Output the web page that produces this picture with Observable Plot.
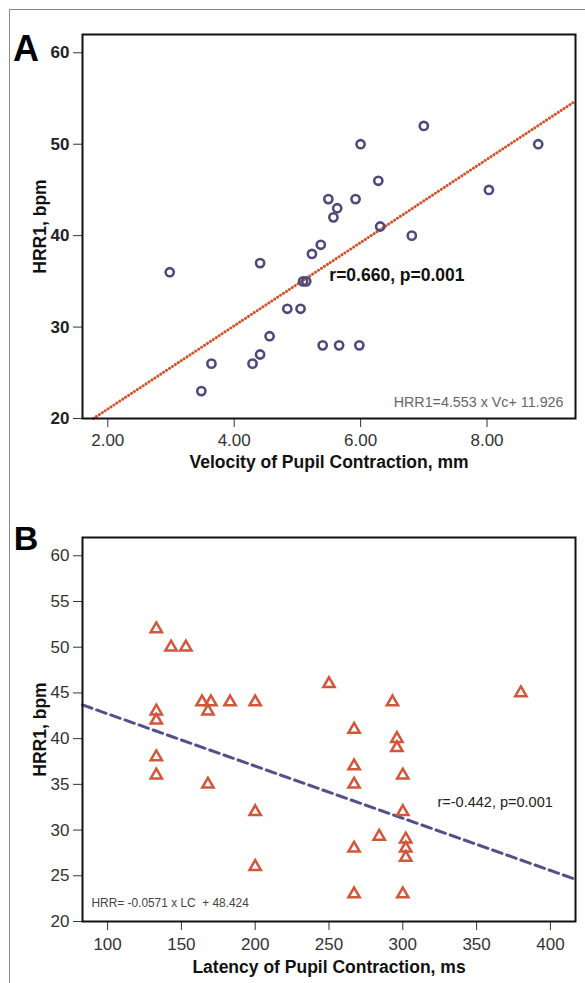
<!DOCTYPE html>
<html>
<head>
<meta charset="utf-8">
<script src="https://cdn.jsdelivr.net/npm/d3@7"></script>
<script src="https://cdn.jsdelivr.net/npm/@observablehq/plot@0.6"></script>
<style>
  html, body { margin: 0; padding: 0; background: #fff; }
  #wrap { position: relative; width: 585px; height: 983px; overflow: hidden; }
  #borderTop { position: absolute; left: 10px; top: 9px; width: 575px; height: 0; border-top: 1.5px solid #8a8a8a; }
  #borderLeft { position: absolute; left: 9px; top: 9px; width: 0; height: 974px; border-left: 1.5px solid #8a8a8a; }
  #panelA { position: absolute; left: 0; top: 0; }
  #panelB { position: absolute; left: 0; top: 480px; }
  svg { overflow: visible; }
</style>
</head>
<body>
<div id="wrap">
  <div id="borderTop"></div>
  <div id="borderLeft"></div>
  <div id="panelA"></div>
  <div id="panelB"></div>
</div>
<script>
// ---- Panel A data: Velocity of Pupil Contraction (mm) vs HRR1 (bpm)
const velocityA = [2.98, 3.48, 3.64, 4.29, 4.41, 4.41, 4.56, 4.84, 5.05, 5.09, 5.14, 5.23, 5.37, 5.40, 5.66, 5.98, 5.49, 5.92, 5.63, 5.57, 6.00, 6.28, 6.31, 6.81, 7.00, 8.03, 8.81];
const hrrA      = [36,   23,   26,   26,   27,   37,   29,   32,   32,   35,   35,   38,   39,   28,   28,   28,   44,   44,   43,   42,   50,   46,   41,   40,   52,   45,   50];
const ticksXA = [2, 4, 6, 8];
const ticksYA = [20, 30, 40, 50, 60];
const domainXA = [1.6, 9.4];
const domainYA = [20, 62];
const slopeA = 4.553, interceptA = 11.926;

// ---- Panel B data: Latency of Pupil Contraction (ms) vs HRR1 (bpm)
const latencyB = [133, 143, 153, 133, 133, 164, 170, 168, 183, 200, 133, 133, 168, 200, 200, 250, 293, 380, 267, 296, 296, 267, 267, 300, 300, 284, 302, 302, 302, 267, 267, 300];
const hrrB     = [52,  50,  50,  43,  42,  44,  44,  43,  44,  44,  38,  36,  35,  32,  26,  46,  44,  45,  41,  40,  39,  37,  35,  36,  32,  29.3, 29, 28,  27,  28,  23,  23];
const ticksXB = [100, 150, 200, 250, 300, 350, 400];
const ticksYB = [20, 25, 30, 35, 40, 45, 50, 55, 60];
const domainXB = [83, 417];
const domainYB = [20, 62];
const slopeB = -0.0571, interceptB = 48.424;

const FONT = "'Liberation Sans', Arial, Helvetica, sans-serif";

const tableA = velocityA.map((v, i) => ({v, h: hrrA[i]}));
const tableB = latencyB.map((l, i) => ({l, h: hrrB[i]}));

const xStartA = Math.max(domainXA[0], (domainYA[0] - interceptA) / slopeA);
const lineA = [xStartA, domainXA[1]].map(x => ({x, y: slopeA * x + interceptA}));
const lineB = [domainXB[0], domainXB[1]].map(x => ({x, y: slopeB * x + interceptB}));

const plotA = Plot.plot({
  width: 585, height: 480,
  marginTop: 34, marginBottom: 62, marginLeft: 82, marginRight: 10,
  x: {domain: domainXA},
  y: {domain: domainYA},
  style: {fontFamily: FONT, background: "transparent", color: "#222"},
  marks: [
    Plot.axisX({ticks: ticksXA, tickFormat: d => d.toFixed(2), tickSize: 9, tickPadding: 6, fontSize: 17, label: null, stroke: "#333", fill: "#333"}),
    Plot.axisY({ticks: ticksYA, tickSize: 9, tickPadding: 4, fontSize: 17, fontWeight: "bold", label: null, stroke: "#333", fill: "#222"}),
    Plot.line(lineA, {x: "x", y: "y", stroke: "#d4532b", strokeWidth: 3, strokeDasharray: "0.1,3.4", strokeLinecap: "round"}),
    Plot.dot(tableA, {x: "v", y: "h", r: 4.1, stroke: "#4e4b7c", strokeWidth: 2.6, fill: "none"}),
    Plot.frame({stroke: "#111", strokeWidth: 2}),
    Plot.text(["r=0.660, p=0.001"], {x: 5.505, y: 35.6, textAnchor: "start", lineAnchor: "middle", fontSize: 17.5, fontWeight: "bold", fill: "#111"}),
    Plot.text(["HRR1=4.553 x Vc+ 11.926"], {frameAnchor: "bottom-right", textAnchor: "end", lineAnchor: "middle", dx: -12, dy: -16, fontSize: 14.3, fill: "#666"}),
    Plot.text(["Velocity of Pupil Contraction, mm"], {frameAnchor: "bottom", textAnchor: "middle", lineAnchor: "middle", dy: 44, fontSize: 17.5, fontWeight: "bold", fill: "#111"}),
    Plot.text(["HRR1, bpm"], {frameAnchor: "left", textAnchor: "middle", lineAnchor: "middle", dx: -42, rotate: -90, fontSize: 17.5, fontWeight: "bold", fill: "#111"}),
    Plot.text(["A"], {frameAnchor: "top-left", textAnchor: "middle", lineAnchor: "middle", dx: -56.5, dy: 14.5, fontSize: 36, fontWeight: "bold", fill: "#000"})
  ]
});
document.getElementById("panelA").append(plotA);

const plotB = Plot.plot({
  width: 585, height: 503,
  marginTop: 57, marginBottom: 62, marginLeft: 82, marginRight: 10,
  x: {domain: domainXB},
  y: {domain: domainYB},
  style: {fontFamily: FONT, background: "transparent", color: "#222"},
  marks: [
    Plot.axisX({ticks: ticksXB, tickSize: 9, tickPadding: 7, fontSize: 17, label: null, stroke: "#333", fill: "#333"}),
    Plot.axisY({ticks: ticksYB, tickSize: 9, tickPadding: 4, fontSize: 17, label: null, stroke: "#333", fill: "#333"}),
    Plot.line(lineB, {x: "x", y: "y", stroke: "#52528a", strokeWidth: 3, strokeDasharray: "10,5"}),
    Plot.dot(tableB, {x: "l", y: "h", symbol: "triangle", r: 4.2, stroke: "#d3553a", strokeWidth: 2.5, fill: "none"}),
    Plot.frame({stroke: "#111", strokeWidth: 2}),
    Plot.text(["r=-0.442, p=0.001"], {x: 323.5, y: 33.0, textAnchor: "start", lineAnchor: "middle", fontSize: 14.5, fill: "#222"}),
    Plot.text(["HRR= -0.0571 x LC \u00a0+ 48.424"], {frameAnchor: "bottom-left", textAnchor: "start", lineAnchor: "middle", dx: 9, dy: -18, fontSize: 11.9, fill: "#444"}),
    Plot.text(["Latency of Pupil Contraction, ms"], {frameAnchor: "bottom", textAnchor: "middle", lineAnchor: "middle", dy: 46, fontSize: 17.5, fontWeight: "bold", fill: "#111"}),
    Plot.text(["HRR1, bpm"], {frameAnchor: "left", textAnchor: "middle", lineAnchor: "middle", dx: -42, rotate: -90, fontSize: 17.5, fontWeight: "bold", fill: "#111"}),
    Plot.text(["B"], {frameAnchor: "top-left", textAnchor: "middle", lineAnchor: "middle", dx: -56.5, dy: 1.5, fontSize: 34, fontWeight: "bold", fill: "#000"})
  ]
});
document.getElementById("panelB").append(plotB);
</script>
</body>
</html>
